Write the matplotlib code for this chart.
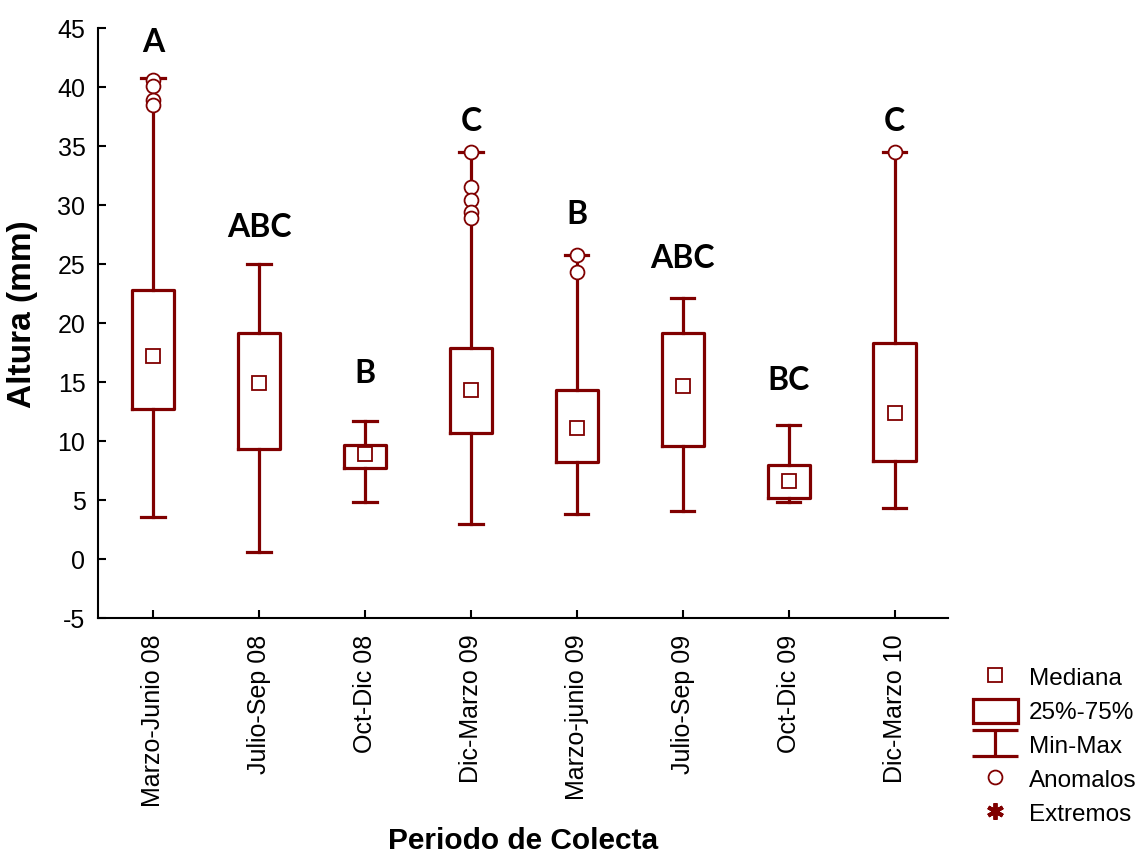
import numpy as np
import matplotlib
matplotlib.use("Agg")
import matplotlib.pyplot as plt
from matplotlib.patches import Patch
from matplotlib.lines import Line2D
from matplotlib.path import Path

plt.rcParams['font.family'] = ['Liberation Sans', 'DejaVu Sans']
plt.rcParams['axes.unicode_minus'] = False

periodos = ["Marzo-Junio 08", "Julio-Sep 08", "Oct-Dic 08", "Dic-Marzo 09",
            "Marzo-junio 09", "Julio-Sep 09", "Oct-Dic 09", "Dic-Marzo 10"]
medianas = [17.2, 14.9, 8.9, 14.3, 11.1, 14.7, 6.6, 12.4]
q1 = [12.7, 9.3, 7.7, 10.7, 8.2, 9.6, 5.2, 8.3]
q3 = [22.8, 19.2, 9.7, 17.9, 14.3, 19.2, 8.0, 18.3]
minimos = [3.6, 0.6, 4.8, 3.0, 3.8, 4.1, 4.8, 4.3]
maximos = [40.8, 25.0, 11.7, 34.5, 25.8, 22.1, 11.35, 34.5]
anomalos = [[40.6, 40.1, 38.9, 38.5], [], [], [34.5, 31.5, 30.4, 29.4, 28.9],
            [25.8, 24.3], [], [], [34.5]]
letras = ["A", "ABC", "B", "C", "B", "ABC", "BC", "C"]
letras_y = [43.8, 28.1, 15.7, 37.1, 29.2, 25.5, 15.1, 37.1]

col = '#800000'

fig = plt.figure(figsize=(11.42, 8.56), dpi=100)
ax = fig.add_axes([0.0858, 0.278, 0.744, 0.689])

stats = []
for i in range(len(periodos)):
    stats.append(dict(med=medianas[i], mean=medianas[i], q1=q1[i], q3=q3[i],
                      whislo=minimos[i], whishi=maximos[i], fliers=anomalos[i]))

pos = np.arange(len(periodos))
ax.bxp(stats, positions=pos, widths=0.4, capwidths=0.22, showmeans=True,
       boxprops=dict(color=col, lw=2.3),
       whiskerprops=dict(color=col, lw=2.3),
       capprops=dict(color=col, lw=2.3),
       medianprops=dict(lw=0),
       meanprops=dict(marker='s', markerfacecolor='white', markeredgecolor=col,
                      markersize=10, markeredgewidth=1.3),
       flierprops=dict(marker='o', markerfacecolor='white', markeredgecolor=col,
                       markersize=10, markeredgewidth=1.3))

for x, t, y in zip(pos, letras, letras_y):
    ax.text(x, y, t, ha='center', va='center', fontsize=23, fontweight='bold',
            family=['Lato', 'DejaVu Sans'])

ax.set_xlim(-0.52, 7.5)
ax.set_ylim(-5, 45)
ax.set_yticks(np.arange(-5, 46, 5))
ax.set_xticks(pos)
ax.set_xticklabels(periodos, rotation=90, fontsize=18)
ax.tick_params(axis='y', labelsize=18, direction='in', length=6, width=1.5, pad=9)
ax.tick_params(axis='x', direction='in', length=6, width=1.5, pad=12)
ax.spines['top'].set_visible(False)
ax.spines['right'].set_visible(False)
ax.spines['left'].set_linewidth(1.5)
ax.spines['bottom'].set_linewidth(1.5)

ax.set_ylabel('Altura (mm)', fontsize=24, fontweight='bold')
ax.yaxis.set_label_coords(-0.071, 0.515)
ax.set_xlabel('Periodo de Colecta', fontsize=21.5, fontweight='bold', va='top')
ax.xaxis.set_label_coords(0.5, -0.354)

# marcador en forma de I para Min-Max
ibeam = Path([(-1, 0.58), (1, 0.58), (0, 0.58), (0, -0.58), (-1, -0.58), (1, -0.58)],
             [Path.MOVETO, Path.LINETO, Path.MOVETO, Path.LINETO, Path.MOVETO, Path.LINETO])

handles = [
    Line2D([], [], ls='none', marker='s', markerfacecolor='white', markeredgecolor=col,
           markersize=10, markeredgewidth=1.3),
    Patch(facecolor='white', edgecolor=col, lw=2.3),
    Line2D([], [], ls='none', marker=ibeam, color=col, markersize=33, markeredgewidth=2.3),
    Line2D([], [], ls='none', marker='o', markerfacecolor='white', markeredgecolor=col,
           markersize=10, markeredgewidth=1.3),
    Line2D([], [], ls='none', marker=(6, 2, 0), color=col, markersize=12, markeredgewidth=2.8),
]
etiquetas = ['Mediana', '25%-75%', 'Min-Max', 'Anomalos', 'Extremos']
fig.legend(handles, etiquetas, loc='upper left', bbox_to_anchor=(973 / 1142, 1 - 665 / 856),
           frameon=False, fontsize=17.5, handlelength=1.85, handleheight=1.15,
           handletextpad=0.45, labelspacing=0.36, borderpad=0, borderaxespad=0)

fig.savefig('out.png', dpi=100, facecolor='white')
